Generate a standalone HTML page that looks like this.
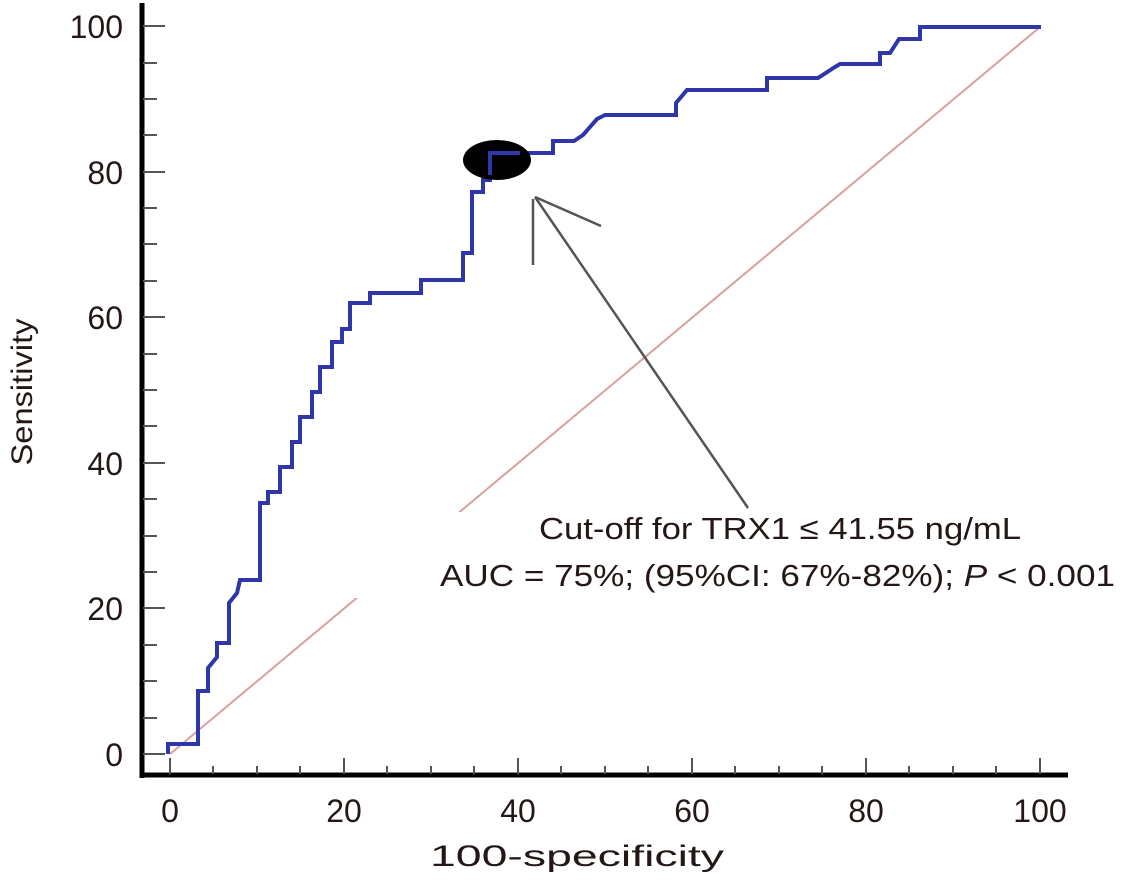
<!DOCTYPE html>
<html><head><meta charset="utf-8"><style>html,body{margin:0;padding:0;background:#fff}svg{display:block}</style></head>
<body>
<svg width="1123" height="881" viewBox="0 0 1123 881" xmlns="http://www.w3.org/2000/svg" font-family="'Liberation Sans',sans-serif" fill="#231815">
<line x1="170" y1="754" x2="1040" y2="27" stroke="#d9a0a0" stroke-width="2"/>
<rect x="330" y="512" width="790" height="86" fill="#fff"/>
<polyline fill="none" stroke="#2e36a8" stroke-width="4" stroke-linejoin="miter" points="
168,754 168,744 198,744 198,691 208,691 208,668 217,657 217,643 229,643 229,603 237,593 240,580 260,580 260,503 268,503 268,492 280,492 280,467 292,467 292,442 300,442 300,417 312,417 312,392 320,392 320,367 332,367 332,342 342,342 342,329 350,329 350,303 370,303 370,293 421,293 421,280 463,280 463,253 472,253 472,192 483,192 483,180 490,180 490,153 553,153 553,141 574,141 583,135 597,119 605,115 676,115 676,103 687,90 767,90 767,78 818,78 835,67 840,64 880,64 880,53 890,53 899,39 920,39 920,27 1041,27"/>
<ellipse cx="497" cy="160" rx="34" ry="20" fill="#000"/>
<polyline fill="none" stroke="#2e36a8" stroke-width="4" points="490,175 490,153 520,153"/>
<g stroke="#555" stroke-width="2.5" fill="none">
<line x1="535" y1="197" x2="748" y2="508"/>
<line x1="535" y1="197" x2="601" y2="226"/>
<line x1="533" y1="199" x2="533" y2="265"/>
</g>
<line x1="142" y1="3" x2="142" y2="778" stroke="#000" stroke-width="5"/>
<line x1="140" y1="775" x2="1068" y2="775" stroke="#000" stroke-width="5"/>
<g stroke="#555" stroke-width="2">
<line x1="143" y1="26" x2="165" y2="26"/><line x1="143" y1="63" x2="157" y2="63"/><line x1="143" y1="99" x2="157" y2="99"/><line x1="143" y1="135" x2="157" y2="135"/>
<line x1="143" y1="172" x2="165" y2="172"/><line x1="143" y1="208" x2="157" y2="208"/><line x1="143" y1="244" x2="157" y2="244"/><line x1="143" y1="281" x2="157" y2="281"/>
<line x1="143" y1="317" x2="165" y2="317"/><line x1="143" y1="354" x2="157" y2="354"/><line x1="143" y1="390" x2="157" y2="390"/><line x1="143" y1="426" x2="157" y2="426"/>
<line x1="143" y1="463" x2="165" y2="463"/><line x1="143" y1="499" x2="157" y2="499"/><line x1="143" y1="536" x2="157" y2="536"/><line x1="143" y1="572" x2="157" y2="572"/>
<line x1="143" y1="608" x2="165" y2="608"/><line x1="143" y1="645" x2="157" y2="645"/><line x1="143" y1="681" x2="157" y2="681"/><line x1="143" y1="718" x2="157" y2="718"/>
<line x1="143" y1="754" x2="165" y2="754"/>
</g>
<g stroke="#555" stroke-width="2">
<line x1="170" y1="758" x2="170" y2="774"/><line x1="213" y1="766" x2="213" y2="774"/><line x1="257" y1="766" x2="257" y2="774"/><line x1="300" y1="766" x2="300" y2="774"/>
<line x1="344" y1="758" x2="344" y2="774"/><line x1="387" y1="766" x2="387" y2="774"/><line x1="431" y1="766" x2="431" y2="774"/><line x1="474" y1="766" x2="474" y2="774"/>
<line x1="518" y1="758" x2="518" y2="774"/><line x1="561" y1="766" x2="561" y2="774"/><line x1="605" y1="766" x2="605" y2="774"/><line x1="648" y1="766" x2="648" y2="774"/>
<line x1="692" y1="758" x2="692" y2="774"/><line x1="735" y1="766" x2="735" y2="774"/><line x1="779" y1="766" x2="779" y2="774"/><line x1="822" y1="766" x2="822" y2="774"/>
<line x1="866" y1="758" x2="866" y2="774"/><line x1="909" y1="766" x2="909" y2="774"/><line x1="953" y1="766" x2="953" y2="774"/><line x1="996" y1="766" x2="996" y2="774"/>
<line x1="1040" y1="758" x2="1040" y2="774"/>
</g>
<g font-size="32" text-anchor="end">
<text x="123" y="38">100</text><text x="123" y="184">80</text><text x="123" y="329">60</text>
<text x="123" y="475">40</text><text x="123" y="620">20</text><text x="123" y="766">0</text>
</g>
<g font-size="32" text-anchor="middle">
<text x="170" y="822">0</text><text x="344" y="822">20</text><text x="518" y="822">40</text>
<text x="692" y="822">60</text><text x="866" y="822">80</text><text x="1040" y="822">100</text>
</g>
<text x="577" y="866" font-size="30" text-anchor="middle" textLength="294" lengthAdjust="spacingAndGlyphs">100-specificity</text>
<text transform="translate(32,392) rotate(-90)" font-size="30" text-anchor="middle" textLength="147" lengthAdjust="spacingAndGlyphs">Sensitivity</text>
<text x="539" y="539" font-size="31" textLength="482" lengthAdjust="spacingAndGlyphs">Cut-off for TRX1 ≤ 41.55 ng/mL</text>
<text x="440" y="586" font-size="31" textLength="675" lengthAdjust="spacingAndGlyphs">AUC = 75%; (95%CI: 67%-82%); <tspan font-style="italic">P</tspan> &lt; 0.001</text>
</svg>
</body></html>
